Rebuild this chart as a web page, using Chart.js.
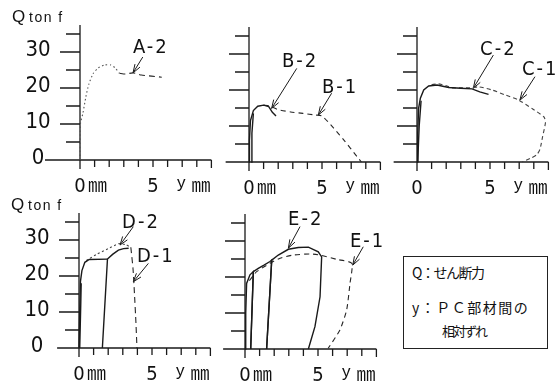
<!DOCTYPE html>
<html>
<head>
<meta charset="utf-8">
<script src="https://cdn.jsdelivr.net/npm/chart.js@4.4.0/dist/chart.umd.min.js"></script>
<style>
html, body { margin: 0; padding: 0; background: #fff; }
body { width: 558px; height: 386px; position: relative; overflow: hidden; }
canvas { position: absolute; }
#note { position: absolute; left: 403px; top: 256px; width: 143px; height: 91px; border: 1px solid #222;
        font-family: "Noto Sans CJK JP", sans-serif; color: #111; }
#note div { position: absolute; white-space: nowrap; line-height: 16px; }
</style>
</head>
<body>
<canvas id="pA"></canvas>
<canvas id="pB"></canvas>
<canvas id="pC"></canvas>
<canvas id="pD"></canvas>
<canvas id="pE"></canvas>
<div id="note">
  <div style="left:8px; top:7px; font-size:14px; letter-spacing:-1.5px;">Q：せん断力</div>
  <div style="left:8px; top:42px; font-size:14px; letter-spacing:1.5px;">y：ＰＣ部材間の</div>
  <div style="left:38px; top:66px; font-size:13px; letter-spacing:-2px;">相対ずれ</div>
</div>
<script>
// y (mm) vs Q (tonf)
const xTicks = [0, 1, 2, 3, 4, 5, 6, 7, 8, 9];
const yTicks = [5, 10, 15, 20, 25, 30, 35];
const yLabels = [0, 10, 20, 30];

const a2Dotted = [[0,0],[0.03,10],[0.2,13],[0.4,17.5],[0.6,21],[0.9,24],[1.25,25.6],[1.7,26.4],[2.1,26.4],[2.4,25.6],[2.7,24.1]];
const a2Dashed = [[2.7,24.1],[3.1,23.9],[3.65,24.2],[4.2,23.6],[4.9,23.3],[5.6,23.0]];

const b2 = [[0,0],[0.03,6],[0.1,11.5],[0.3,14.3],[0.6,15.5],[1.0,15.8],[1.35,15.4],[1.6,13.8],[1.85,12.8]];
const b2Reload = [[0.15,0],[0.2,8],[0.3,13.5]];
const b1 = [[1.0,15.8],[1.4,15.6],[1.95,14.6],[2.85,13.9],[3.7,13.5],[4.55,13.05],[5.0,12.8],[5.8,9.4],[6.5,6.1],[7.4,1.5],[7.7,0]];

const c2 = [[0,0],[0.05,8],[0.11,14.9],[0.23,17.7],[0.46,20],[0.8,21.1],[1.37,21.4],[2.17,20.7],[3.0,20.5],[3.77,20.3],[4.3,19.5],[4.9,18.8]];
const c2Reload = [[0.05,0],[0.15,10],[0.28,17]];
const c1 = [[1.0,21.5],[1.48,21.7],[2.0,21.2],[2.4,20.6],[3.0,20.6],[3.77,20.6],[4.2,20.9],[5.14,20],[6.0,18.7],[6.96,17.2],[7.9,14.8],[8.7,12.5],[8.8,11],[8.6,7],[8.42,3.5],[8.2,2.0],[7.76,1.0],[7.19,0]];

const d2 = [[0,0],[0.05,10],[0.1,18.5],[0.2,21.5],[0.4,23.8],[0.7,24.6],[1.95,24.7]];
const d2Core = [[0.05,0],[0.12,12],[0.15,18]];
const d2Reload = [[1.6,0],[1.95,24.7],[2.3,26.0],[2.7,27.2],[3.05,27.6],[3.4,27.7]];
const d1Dotted = [[0.5,24.3],[1.2,26.0],[2.0,27.6],[2.75,29.0],[3.2,28.7],[3.55,28.0]];
const d1Dashed = [[3.55,28.0],[3.7,22],[3.8,15],[3.9,7],[3.97,0]];

const e2Loop1 = [[0,0],[0.05,10],[0.11,18.2],[0.34,20.6],[0.57,21.5],[0.39,0]];
const e2Loop2 = [[0.39,0],[0.57,21.5],[0.91,22.4],[1.3,23.3],[1.71,24.3],[1.83,24.7],[1.48,0]];
const e2Loop3 = [[1.48,0],[1.83,24.7],[2.28,26.1],[2.97,27.7],[3.65,28.2],[4.34,28.3],[5.02,27.0],[5.25,25.6],[5.14,14.5],[4.79,6.2],[4.34,0]];
const e1 = [[0.3,19],[0.57,20.4],[0.8,21.5],[1.71,23.8],[2.4,25.2],[3.31,26.1],[4.45,26.4],[5.14,26.1],[6.28,24.9],[7.31,23.8],[7.19,18.2],[6.96,10.8],[6.5,5.3],[5.7,0.2]];

const KX = 14.6, KY = 3.6;   // px per mm, px per tonf
const NARROW = '"Liberation Sans Narrow", "DejaVu Sans Condensed", sans-serif';
const INK = '#1a1a1a';

function solid(pts) {
  return { data: pts.map(p => ({x: p[0], y: p[1]})), showLine: true, borderColor: INK, borderWidth: 1.4, tension: 0, pointRadius: 0 };
}
function dashed(pts, dash, color) {
  return { data: pts.map(p => ({x: p[0], y: p[1]})), showLine: true, borderColor: color || '#262626', borderWidth: 1.1, borderDash: dash || [5, 4], tension: 0.2, pointRadius: 0 };
}

function arrow(ctx, x1, y1, x2, y2) {
  ctx.beginPath(); ctx.moveTo(x1, y1); ctx.lineTo(x2, y2); ctx.stroke();
  const a = Math.atan2(y2 - y1, x2 - x1), L = 9, s = 0.33;
  ctx.beginPath();
  ctx.moveTo(x2 - L * Math.cos(a - s), y2 - L * Math.sin(a - s));
  ctx.lineTo(x2, y2);
  ctx.lineTo(x2 - L * Math.cos(a + s), y2 - L * Math.sin(a + s));
  ctx.stroke();
}

const drawAxes = {
  id: 'drawAxes',
  beforeDatasetsDraw(chart, args, o) {
    const ctx = chart.ctx;
    const X = v => chart.scales.x.getPixelForValue(v);
    const Y = v => chart.scales.y.getPixelForValue(v);
    ctx.save();
    ctx.strokeStyle = INK; ctx.fillStyle = '#111'; ctx.lineWidth = 1.3;
    ctx.beginPath();
    ctx.moveTo(X(o.xStart), Y(0)); ctx.lineTo(X(9), Y(0));
    ctx.moveTo(X(0), Y(0) + 9); ctx.lineTo(X(0), Y(37.5));
    xTicks.forEach(t => { ctx.moveTo(X(t), Y(0)); ctx.lineTo(X(t), Y(0) + (t === 9 ? 8 : 7)); });
    yTicks.forEach(t => { ctx.moveTo(X(0), Y(t)); ctx.lineTo(X(0) - (t % 10 === 0 ? 20 : 14), Y(t)); });
    ctx.stroke();

    // tick labels
    ctx.textBaseline = 'alphabetic';
    if (o.yText) {
      ctx.font = '22px ' + NARROW; ctx.textAlign = 'center'; ctx.textBaseline = 'middle';
      yLabels.forEach(t => ctx.fillText(String(t), X(0) - 42, Y(t) - 2));
      ctx.textBaseline = 'alphabetic'; ctx.textAlign = 'left';
      ctx.font = '17px "Liberation Sans", sans-serif';
      ctx.fillText('Q', X(0) - 68, Y(37.5) - 3);
      ctx.font = '14px "Liberation Sans", sans-serif';
      ctx.letterSpacing = '1.5px';
      ctx.fillText('ton f', X(0) - 51, Y(37.5) - 3);
      ctx.letterSpacing = '0px';
    }
    ctx.font = '20px ' + NARROW; ctx.textAlign = 'center';
    ctx.fillText('0', X(0), Y(0) + 32);
    ctx.fillText('5', X(5), Y(0) + 32);
    ctx.textAlign = 'left';
    ctx.font = '19px "Noto Sans CJK JP", sans-serif';
    if (o.zeroUnit) ctx.fillText('㎜', X(0) + 8, Y(0) + 32);
    ctx.fillText('㎜', X(9) - 20, Y(0) + 32);
    ctx.font = '17px "Liberation Sans", sans-serif';
    ctx.fillText('y', X(6.65), Y(0) + 28);

    // curve names with arrows
    ctx.font = '20px ' + NARROW; ctx.letterSpacing = '2px'; ctx.lineWidth = 1;
    o.notes.forEach(n => {
      ctx.fillText(n[0], X(n[1]), Y(n[2]));
      arrow(ctx, X(n[3]), Y(n[4]), X(n[5]), Y(n[6]));
    });
    ctx.restore();
  }
};

function panel(id, left, top, w, h, ox, oy, axes, datasets) {
  const cv = document.getElementById(id);
  cv.width = w; cv.height = h;
  cv.style.left = left + 'px'; cv.style.top = top + 'px';
  return new Chart(cv, {
    type: 'scatter',
    data: { datasets },
    options: {
      responsive: false, animation: false, devicePixelRatio: 1,
      layout: { padding: 0 },
      plugins: { legend: { display: false }, tooltip: { enabled: false }, drawAxes: axes },
      scales: {
        x: { type: 'linear', display: false, min: -(ox - left) / KX, max: (left + w - ox) / KX },
        y: { type: 'linear', display: false, min: -(top + h - oy) / KY, max: (oy - top) / KY }
      }
    },
    plugins: [drawAxes]
  });
}

panel('pA', 0, 0, 228, 200, 80, 160,
  { xStart: -2.4, yText: true, zeroUnit: true, notes: [['A-2', 3.63, 29.7, 4.3, 28.6, 3.63, 24.2]] },
  [dashed(a2Dotted, [1.5, 2.5], '#555'), dashed(a2Dashed, [6, 4])]);

panel('pB', 200, 0, 185, 200, 249, 162,
  { xStart: -1.6, yText: false, zeroUnit: true,
    notes: [['B-2', 2.26, 26.4, 3.27, 26.0, 1.55, 14.9], ['B-1', 5.0, 19.2, 5.66, 19.1, 4.75, 13.05]] },
  [solid(b2), solid(b2Reload), dashed(b1, [5, 4])]);

panel('pC', 370, 0, 188, 200, 417, 162,
  { xStart: -1.6, yText: false, zeroUnit: false,
    notes: [['C-2', 4.32, 29.7, 5.23, 29.7, 3.86, 20.5], ['C-1', 7.19, 24.2, 8.08, 23.7, 7.05, 17.2]] },
  [solid(c2), solid(c2Reload), dashed(c1, [4, 3], '#444')]);

panel('pD', 0, 190, 228, 196, 79, 348,
  { xStart: -1.5, yText: true, zeroUnit: true,
    notes: [['D-2', 2.95, 33.3, 3.72, 33.7, 2.81, 28.6], ['D-1', 3.97, 23.9, 4.75, 23.5, 3.72, 18.4]] },
  [solid(d2), solid(d2Core), solid(d2Reload), dashed(d1Dotted, [2, 2.5], '#444'), dashed(d1Dashed, [6, 4])]);

panel('pE', 215, 190, 180, 196, 245, 349,
  { xStart: -1.5, yText: false, zeroUnit: true,
    notes: [['E-2', 2.95, 34.4, 3.77, 34.0, 2.97, 28.0], ['E-1', 7.19, 28.3, 8.1, 28.4, 7.38, 23.3]] },
  [solid(e2Loop1), solid(e2Loop2), solid(e2Loop3), dashed(e1, [5, 4])]);
</script>
</body>
</html>
